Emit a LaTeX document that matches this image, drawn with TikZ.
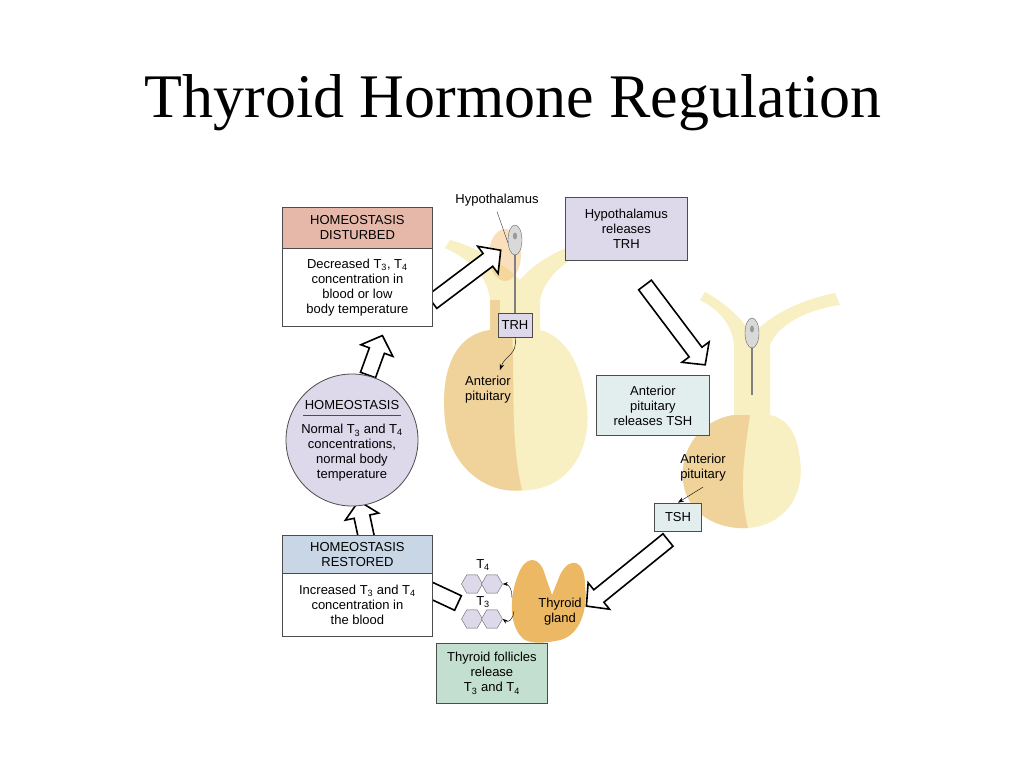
\documentclass[tikz,border=0pt]{standalone}
\usepackage{fontspec}
\setsansfont{Liberation Sans}
\newfontfamily\titlefont{Liberation Serif}
\usetikzlibrary{shapes.geometric,arrows.meta}
\definecolor{pinkh}{HTML}{E6B8AA}
\definecolor{lav}{HTML}{DDD8EA}
\definecolor{teal}{HTML}{E2EEEE}
\definecolor{blueh}{HTML}{C8D6E6}
\definecolor{greenb}{HTML}{C3DFCF}
\definecolor{pyel}{HTML}{F8EFC2}
\definecolor{porg}{HTML}{EFD39A}
\definecolor{thy}{HTML}{EDB863}
\newcommand{\barrow}[4]{\begin{scope}[shift={(#1,#2)},rotate=-#3]
\draw[line width=1.6pt,fill=white,line join=miter] (0,-8)--(#4-16,-8)--(#4-16,-17)--(#4,0)--(#4-16,17)--(#4-16,8)--(0,8)--cycle;
\end{scope}}
\tikzset{
 txt/.style={font=\sffamily\fontsize{13}{15}\selectfont,align=center},
 box/.style={draw=black!70,line width=0.8pt,txt},
 hexa/.style={regular polygon,regular polygon sides=6,draw=black!60,fill=lav,minimum size=21pt,inner sep=0pt}
}
\begin{document}
\begin{tikzpicture}[x=1pt,y=-1pt]
\useasboundingbox (0,0) rectangle (1024,768);
\fill[white] (0,0) rectangle (1024,768);
\node[font=\titlefont\fontsize{62}{68}\selectfont] (title) at (513,103) {Thyroid Hormone Regulation};
% left pituitary
\fill[pyel] (445,248) .. controls (475,262) and (488,280) .. (490,300) -- (490,330)
  .. controls (455,335) and (440,370) .. (445,420) .. controls (450,470) and (490,495) .. (530,490)
  .. controls (575,485) and (595,440) .. (585,395) .. controls (578,355) and (560,335) .. (540,330)
  -- (540,300) .. controls (545,275) and (570,255) .. (600,248) -- (590,240) .. controls (560,248) and (535,262) .. (520,280)
  .. controls (500,260) and (470,245) .. (450,240) -- cycle;
\fill[porg] (490,330) .. controls (455,335) and (440,370) .. (445,420) .. controls (450,470) and (490,495) .. (522,490)
  .. controls (510,440) and (515,380) .. (512,330) -- cycle;
\fill[porg] (490,300)--(500,300)--(500,330)--(490,330)--cycle;
\fill[porg!70!orange,opacity=0.45] (505,255) ellipse (16 and 26);
\draw[black!50,line width=2pt] (515,252)--(515,313);
\draw[black!60,fill=black!15] (515,240) ellipse (7 and 15);
\fill[black!40] (515,236) ellipse (2 and 3.5);
% right pituitary
\fill[pyel] (700,300) .. controls (720,310) and (732,325) .. (734,345) -- (734,415)
  .. controls (700,420) and (680,450) .. (683,480) .. controls (686,515) and (720,530) .. (748,528)
  .. controls (785,525) and (805,495) .. (800,460) .. controls (797,430) and (785,418) .. (770,415)
  -- (770,345) .. controls (778,325) and (805,310) .. (840,305) -- (835,293) .. controls (800,300) and (770,315) .. (752,335)
  .. controls (740,315) and (720,300) .. (705,292) -- cycle;
\fill[porg] (734,415) .. controls (700,420) and (680,450) .. (683,480) .. controls (686,515) and (720,530) .. (748,528)
  .. controls (738,490) and (745,450) .. (750,415) -- cycle;
\draw[black!50,line width=2pt] (752,345)--(752,395);
\draw[black!60,fill=black!15] (752,333) ellipse (7 and 15);
\fill[black!40] (752,329) ellipse (2 and 3.5);
% thyroid
\fill[thy] (518,575) .. controls (525,555) and (540,555) .. (545,575) -- (552,595) -- (560,575)
  .. controls (570,555) and (585,560) .. (585,585) .. controls (588,610) and (580,635) .. (560,640)
  .. controls (550,642) and (535,645) .. (525,640) .. controls (510,630) and (508,600) .. (518,575) -- cycle;
% block arrows
\barrow{432}{302}{-37}{86}
\barrow{645}{285}{53}{100}
\barrow{668}{540}{141}{105}
\barrow{368}{545}{-102}{45}
\barrow{368}{375}{-70}{42}
\barrow{458}{603}{-155}{60}
% boxes
\node[box,fill=pinkh,minimum width=150pt,minimum height=41pt,anchor=north west] (dh) at (282,207) {HOMEOSTASIS\\DISTURBED};
\node[box,fill=white,minimum width=150pt,minimum height=78pt,anchor=north west] (db) at (282,248) {Decreased T\textsubscript{3}, T\textsubscript{4}\\concentration in\\blood or low\\body temperature};
\node[box,fill=lav,minimum width=122pt,minimum height=63pt,anchor=north west] (hyp) at (565,197) {Hypothalamus\\releases\\TRH};
\node[txt] (hl) at (497,200) {Hypothalamus};
\coordinate (hlt) at (508,243);
\draw[black!80] (hl.south) ++(0,2) -- (hlt);
\node[box,fill=lav,minimum width=34pt,minimum height=24pt,inner sep=1pt] (trh) at (515,325) {TRH};
\node[txt] (ap1) at (488,390) {Anterior\\pituitary};
\draw[-{Stealth[length=6pt]},black] (trh.south) .. controls (518,355) and (505,355) .. (500,370);
\node[circle,draw=black!70,line width=0.8pt,fill=lav,minimum size=132pt] (hc) at (352,440) {};
\node[txt] (hct) at (352,405) {HOMEOSTASIS};
\draw[black!70] (303,415)--(401,415);
\node[txt] (hcb) at (352,453) {Normal T\textsubscript{3} and T\textsubscript{4}\\concentrations,\\normal body\\temperature};
\node[box,fill=teal,minimum width=113pt,minimum height=60pt,anchor=north west] (aps) at (596,375) {Anterior\\pituitary\\releases TSH};
\node[txt] (ap2) at (703,468) {Anterior\\pituitary};
\node[box,fill=teal,minimum width=47pt,minimum height=28pt,inner sep=1pt] (tsh) at (678,517) {TSH};
\draw[-{Stealth[length=6pt]},black] (ap2.south) ++(0,2) -- (tsh.north);
\node[box,fill=blueh,minimum width=150pt,minimum height=38pt,anchor=north west] (rh) at (282,535) {HOMEOSTASIS\\RESTORED};
\node[box,fill=white,minimum width=150pt,minimum height=63pt,anchor=north west] (rb) at (282,573) {Increased T\textsubscript{3} and T\textsubscript{4}\\concentration in\\the blood};
\node[box,fill=greenb,minimum width=111pt,minimum height=60pt,anchor=north west] (tf) at (436,643) {Thyroid follicles\\release\\T\textsubscript{3} and T\textsubscript{4}};
\node[txt] (tg) at (560,612) {Thyroid\\gland};
\node[hexa] (h1) at (472,584) {};
\node[hexa] (h2) at (492,584) {};
\node[hexa] (h3) at (472,619) {};
\node[hexa] (h4) at (492,619) {};
\node[txt] (t4) at (483,565) {T\textsubscript{4}};
\node[txt] (t3) at (483,602) {T\textsubscript{3}};
\draw[-{Stealth[length=5pt]}] (512,598) .. controls (512,588) and (508,584) .. (h2.east);
\draw[-{Stealth[length=5pt]}] (514,611) .. controls (513,620) and (508,623) .. (h4.east);
\end{tikzpicture}
\end{document}
